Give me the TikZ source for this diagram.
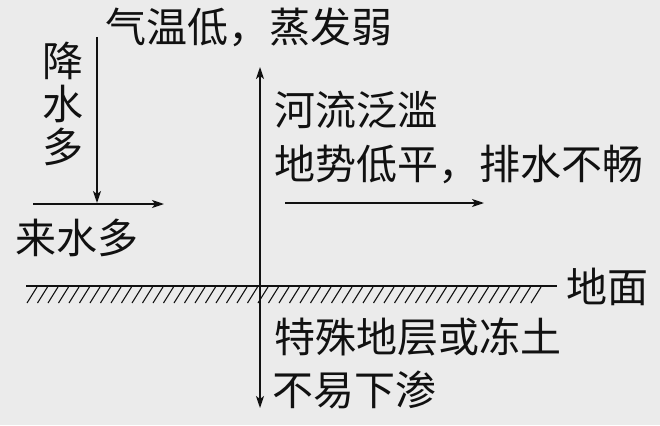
\documentclass[tikz,border=0pt]{standalone}
\usepackage{fontspec}
\setmainfont{Noto Sans CJK SC}
\usetikzlibrary{arrows.meta}
\definecolor{bg}{HTML}{EBEBEB}
\definecolor{ink}{HTML}{111111}
\begin{document}
\begin{tikzpicture}[x=1pt,y=-1pt,
  lbl/.style={font=\fontsize{41}{43}\selectfont, text=ink, inner sep=0pt},
  arr/.style={draw=ink, line width=1.5pt, -{Stealth[length=12pt,width=8pt,inset=3pt]}},
  darr/.style={draw=ink, line width=1.5pt, {Stealth[length=12pt,width=8pt,inset=3pt]}-{Stealth[length=12pt,width=8pt,inset=3pt]}},
  ground/.style={draw=ink, line width=2pt},
  hatch/.style={draw=ink, line width=1.1pt}]
\fill[bg] (0,0) rectangle (660,425);
\useasboundingbox (0,0) rectangle (660,425);

% texts
\node[lbl,anchor=west] (top) at (105,27) {气温低，蒸发弱};
\node[lbl,align=center] (jsd) at (63,104) {降\\水\\多};
\node[lbl,anchor=west] (lsd) at (15,238) {来水多};
\node[lbl,anchor=west] (hl) at (274,110) {河流泛滥};
\node[lbl,anchor=west] (ds) at (274,164) {地势低平，排水不畅};
\node[lbl,anchor=west] (ts) at (274,337) {特殊地层或冻土};
\node[lbl,anchor=west] (by) at (272,390) {不易下渗};
\node[lbl,anchor=west] (dm) at (566,287) {地面};

% connector end points
\coordinate (a1) at (97,37);  \coordinate (a2) at (97,203);
\coordinate (b1) at (33,204); \coordinate (b2) at (164,204);
\coordinate (c1) at (285,203); \coordinate (c2) at (484,203);
\coordinate (v1) at (260,408); \coordinate (v2) at (260,67);
\coordinate (g1) at (26,286); \coordinate (g2) at (557,286);

% arrows
\draw[arr] (a1) -- (a2);
\draw[arr] (b1) -- (b2);
\draw[arr] (c1) -- (c2);
\draw[darr] (v1) -- (v2);

% ground
\draw[ground] (g1) -- (g2);
\foreach \x in {37,47.5,...,547} \draw[hatch] (\x,287) -- ++(-10,16);
\end{tikzpicture}
\end{document}
